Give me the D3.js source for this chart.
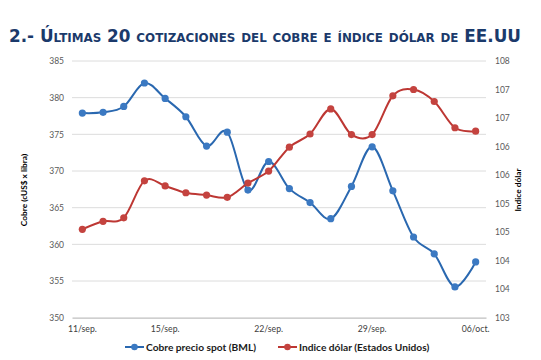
<!DOCTYPE html>
<html>
<head>
<meta charset="utf-8">
<script src="https://cdn.jsdelivr.net/npm/d3@7"></script>
<style>
  body { margin: 0; background: #fff; }
  svg { display: block; }
</style>
</head>
<body>
<svg id="chart" width="541" height="360"></svg>
<script>
// 20 trading days, 11/sep. to 06/oct.
const dates = ["11/sep.", "12/sep.", "13/sep.", "14/sep.", "15/sep.",
  "18/sep.", "19/sep.", "20/sep.", "21/sep.", "22/sep.",
  "25/sep.", "26/sep.", "27/sep.", "28/sep.", "29/sep.",
  "02/oct.", "03/oct.", "04/oct.", "05/oct.", "06/oct."];
const tickDates = ["11/sep.", "15/sep.", "22/sep.", "29/sep.", "06/oct."];

const cobre = [377.9, 378.0, 378.8, 382.0, 379.9, 377.4, 373.4, 375.3, 367.4, 371.3,
  367.6, 365.7, 363.5, 367.9, 373.3, 367.3, 361.0, 358.7, 354.2, 357.6];
const dolar = [104.55, 104.69, 104.75, 105.40, 105.31, 105.19, 105.15, 105.11, 105.36, 105.57,
  105.99, 106.22, 106.66, 106.21, 106.21, 106.89, 107.00, 106.79, 106.33, 106.27];

const leftTicks = [350, 355, 360, 365, 370, 375, 380, 385];
const rightTicks = [103, 103.5, 104, 104.5, 105, 105.5, 106, 106.5, 107, 107.5];

const blue = "#2A68B0", blueDot = "#3B79C2";
const red = "#BD3733", redDot = "#C4433F";

const svg = d3.select("#chart");
const mLeft = 72, mRight = 486, mTop = 61, mBottom = 317.7;

// title
svg.append("text")
  .attr("x", 9).attr("y", 42)
  .attr("font-family", "DejaVu Sans, Verdana, sans-serif")
  .attr("font-weight", "bold")
  .attr("font-size", 17)
  .style("font-variant", "small-caps")
  .attr("fill", "#1B3A6B")
  .attr("textLength", 512)
  .attr("lengthAdjust", "spacingAndGlyphs")
  .text("2.- Últimas 20 cotizaciones del cobre e índice dólar de EE.UU");

const x = d3.scaleBand().domain(dates).range([mLeft, mRight]);
const xc = d => x(d) + x.bandwidth() / 2;
const yL = d3.scaleLinear().domain([350, 385]).range([mBottom, mTop]);
const yR = d3.scaleLinear().domain([103, 107.5]).range([mBottom, mTop]);

const font = "Lato, 'Open Sans', sans-serif";

// gridlines
svg.append("g")
  .selectAll("line")
  .data(leftTicks.slice(1))
  .enter()
  .append("line")
  .attr("x1", mLeft).attr("x2", mRight)
  .attr("y1", d => yL(d)).attr("y2", d => yL(d))
  .attr("stroke", "#dcdcdc").attr("stroke-width", 1);

// left axis
const gL = svg.append("g")
  .attr("transform", `translate(${mLeft},0)`)
  .call(d3.axisLeft(yL).tickValues(leftTicks).tickSize(0).tickPadding(8).tickFormat(d3.format("d")));
gL.select(".domain").remove();
gL.selectAll("text").attr("font-family", font).attr("font-size", 8.5).attr("fill", "#595959");

// right axis
const gR = svg.append("g")
  .attr("transform", `translate(${mRight},0)`)
  .call(d3.axisRight(yR).tickValues(rightTicks).tickSize(0).tickPadding(9)
    .tickFormat(d => Math.round(d)));
gR.select(".domain").remove();
gR.selectAll("text").attr("font-family", font).attr("font-size", 8.5).attr("fill", "#595959");

// bottom axis
const gB = svg.append("g")
  .attr("transform", `translate(0,${mBottom})`)
  .call(d3.axisBottom(x).tickValues(tickDates).tickSize(0).tickPadding(8));
gB.select(".domain").attr("stroke", "#bfbfbf").attr("stroke-width", 1.2);
gB.selectAll("text").attr("font-family", font).attr("font-size", 8.7).attr("fill", "#404040");

// axis titles
svg.append("text")
  .attr("transform", `translate(27,190) rotate(-90)`)
  .attr("text-anchor", "middle")
  .attr("font-family", font).attr("font-weight", "bold").attr("font-size", 8.3)
  .text("Cobre (cUS$ x libra)");
svg.append("text")
  .attr("transform", `translate(521,190) rotate(-90)`)
  .attr("text-anchor", "middle")
  .attr("font-family", font).attr("font-weight", "bold").attr("font-size", 8.3)
  .text("Indice dólar");

// lines
const series = [
  { values: cobre, y: yL, line: blue, dot: blueDot },
  { values: dolar, y: yR, line: red, dot: redDot }
];

series.forEach(s => {
  const line = d3.line()
    .x((d, i) => xc(dates[i]))
    .y(d => s.y(d))
    .curve(d3.curveCardinal.tension(0));
  svg.append("path")
    .datum(s.values)
    .attr("d", line)
    .attr("fill", "none")
    .attr("stroke", s.line)
    .attr("stroke-width", 2);
  svg.append("g")
    .selectAll("circle")
    .data(s.values)
    .enter()
    .append("circle")
    .attr("cx", (d, i) => xc(dates[i]))
    .attr("cy", d => s.y(d))
    .attr("r", 3.6)
    .attr("fill", s.dot);
});

// legend
const legend = [
  { name: "Cobre precio spot (BML)", line: blue, dot: blueDot, x: 125 },
  { name: "Indice dólar (Estados Unidos)", line: red, dot: redDot, x: 278 }
];
const lg = svg.append("g").attr("transform", "translate(0,347)");
legend.forEach(l => {
  lg.append("line")
    .attr("x1", l.x).attr("x2", l.x + 19)
    .attr("stroke", l.line).attr("stroke-width", 2);
  lg.append("circle")
    .attr("cx", l.x + 9.5).attr("r", 3.3).attr("fill", l.dot);
  lg.append("text")
    .attr("x", l.x + 21).attr("y", 3.5)
    .attr("font-family", font).attr("font-weight", "bold").attr("font-size", 10.2)
    .attr("fill", "#1a1a1a")
    .text(l.name);
});
</script>
</body>
</html>
